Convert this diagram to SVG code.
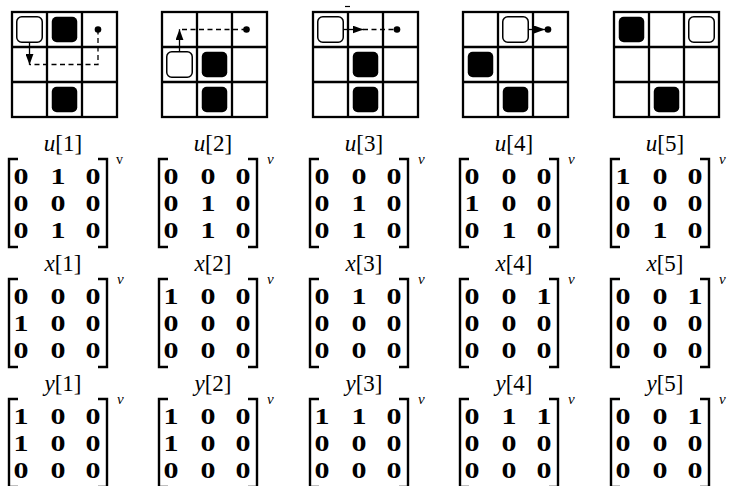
<svg xmlns="http://www.w3.org/2000/svg" width="729" height="486" viewBox="0 0 729 486">
<defs>
<style>
.grid{fill:none;stroke:#000;stroke-width:2.3}
.blk{fill:#000}
.wht{fill:#fff;stroke:#000;stroke-width:1.5}
.dash{fill:none;stroke:#000;stroke-width:1.3;stroke-dasharray:5 3.5}
.sol{fill:none;stroke:#000;stroke-width:1.3}
.br{fill:none;stroke:#000;stroke-width:2.4}
.d{font-family:"Liberation Serif",serif;font-weight:bold;font-size:24px;text-anchor:middle;fill:#000}
.lbl{font-family:"Liberation Serif",serif;font-size:23px;text-anchor:middle;fill:#000}
.lbl tspan.i{font-style:italic}
.sup{font-family:"Liberation Serif",serif;font-style:italic;font-size:15px;fill:#000}
.supr{font-family:"Liberation Serif",serif;font-size:14px;fill:#000}
</style>
<marker id="ah" markerWidth="11" markerHeight="8" refX="11" refY="4" orient="auto" markerUnits="userSpaceOnUse">
<path d="M0,0 L11,4 L0,8 z" fill="#000"/>
</marker>
<g id="g3x3">
<rect x="0" y="0" width="105" height="105" class="grid"/>
<path d="M35,0V105M70,0V105M0,35H105M0,70H105" class="grid"/>
</g>
</defs>
<rect width="729" height="486" fill="#fff"/>

<g id="grid1">
<use href="#g3x3" x="12" y="12"/>
<rect x="16.75" y="16.75" width="25.5" height="25.5" rx="5" class="wht"/>
<rect x="51.75" y="16.75" width="25.5" height="25.5" rx="5" class="blk"/>
<rect x="51.75" y="86.75" width="25.5" height="25.5" rx="5" class="blk"/>
<circle cx="98" cy="29.5" r="3.3" fill="#000"/>
</g>
<g id="grid2">
<use href="#g3x3" x="162" y="12"/>
<rect x="166.75" y="51.75" width="25.5" height="25.5" rx="5" class="wht"/>
<rect x="201.75" y="51.75" width="25.5" height="25.5" rx="5" class="blk"/>
<rect x="201.75" y="86.75" width="25.5" height="25.5" rx="5" class="blk"/>
<circle cx="246.5" cy="29.5" r="3.3" fill="#000"/>
</g>
<g id="grid3">
<use href="#g3x3" x="313" y="12"/>
<rect x="317.75" y="16.75" width="25.5" height="25.5" rx="5" class="wht"/>
<rect x="352.75" y="51.75" width="25.5" height="25.5" rx="5" class="blk"/>
<rect x="352.75" y="86.75" width="25.5" height="25.5" rx="5" class="blk"/>
<circle cx="397" cy="29.5" r="3.3" fill="#000"/>
<path d="M345,6.5H350" stroke="#000" stroke-width="1.2"/>
</g>
<g id="grid4">
<use href="#g3x3" x="463" y="12"/>
<rect x="502.75" y="16.75" width="25.5" height="25.5" rx="5" class="wht"/>
<rect x="467.75" y="51.75" width="25.5" height="25.5" rx="5" class="blk"/>
<rect x="502.75" y="86.75" width="25.5" height="25.5" rx="5" class="blk"/>
<circle cx="548" cy="29.5" r="3.3" fill="#000"/>
</g>
<g id="grid5">
<use href="#g3x3" x="614" y="12"/>
<rect x="618.75" y="16.75" width="25.5" height="25.5" rx="5" class="blk"/>
<rect x="688.75" y="16.75" width="25.5" height="25.5" rx="5" class="wht"/>
<rect x="653.75" y="86.75" width="25.5" height="25.5" rx="5" class="blk"/>
</g>

<g id="connectors">
<path d="M98,29.5V64.5H29.5" class="dash"/>
<path d="M29.5,42.3V64.8" class="sol" marker-end="url(#ah)"/>
<path d="M246.5,29.5H179.5" class="dash"/>
<path d="M179.5,51.7V29.2" class="sol" marker-end="url(#ah)"/>
<path d="M343.3,29.5H363.5" class="sol" marker-end="url(#ah)"/>
<path d="M363,29.5H397" class="dash"/>
<path d="M528.3,29.5H545" class="sol" marker-end="url(#ah)"/>
</g>

<g id="u1">
<text class="lbl" x="63" y="151"><tspan class="i">u</tspan>[1]</text>
<path d="M18,159H9V247H18M98,159H107V247H98" class="br"/>
<text class="d" transform="translate(58,184) scale(1.25,1)" x="-29.6 0 28" y="0">010</text>
<text class="d" transform="translate(58,211) scale(1.25,1)" x="-29.6 0 28" y="0">000</text>
<text class="d" transform="translate(58,238) scale(1.25,1)" x="-29.6 0 28" y="0">010</text>
<text class="supr" x="116" y="164">v</text>
</g>
<g id="u2">
<text class="lbl" x="213" y="151"><tspan class="i">u</tspan>[2]</text>
<path d="M168,159H159V247H168M248,159H257V247H248" class="br"/>
<text class="d" transform="translate(208,184) scale(1.25,1)" x="-29.6 0 28" y="0">000</text>
<text class="d" transform="translate(208,211) scale(1.25,1)" x="-29.6 0 28" y="0">010</text>
<text class="d" transform="translate(208,238) scale(1.25,1)" x="-29.6 0 28" y="0">010</text>
<text class="sup" x="267" y="164">v</text>
</g>
<g id="u3">
<text class="lbl" x="364" y="151"><tspan class="i">u</tspan>[3]</text>
<path d="M319,159H310V247H319M399,159H408V247H399" class="br"/>
<text class="d" transform="translate(359,184) scale(1.25,1)" x="-29.6 0 28" y="0">000</text>
<text class="d" transform="translate(359,211) scale(1.25,1)" x="-29.6 0 28" y="0">010</text>
<text class="d" transform="translate(359,238) scale(1.25,1)" x="-29.6 0 28" y="0">010</text>
<text class="sup" x="418" y="164">v</text>
</g>
<g id="u4">
<text class="lbl" x="514" y="151"><tspan class="i">u</tspan>[4]</text>
<path d="M469,159H460V247H469M549,159H558V247H549" class="br"/>
<text class="d" transform="translate(509,184) scale(1.25,1)" x="-29.6 0 28" y="0">000</text>
<text class="d" transform="translate(509,211) scale(1.25,1)" x="-29.6 0 28" y="0">100</text>
<text class="d" transform="translate(509,238) scale(1.25,1)" x="-29.6 0 28" y="0">010</text>
<text class="sup" x="568" y="164">v</text>
</g>
<g id="u5">
<text class="lbl" x="665" y="151"><tspan class="i">u</tspan>[5]</text>
<path d="M620,159H611V247H620M700,159H709V247H700" class="br"/>
<text class="d" transform="translate(660,184) scale(1.25,1)" x="-29.6 0 28" y="0">100</text>
<text class="d" transform="translate(660,211) scale(1.25,1)" x="-29.6 0 28" y="0">000</text>
<text class="d" transform="translate(660,238) scale(1.25,1)" x="-29.6 0 28" y="0">010</text>
<text class="sup" x="719" y="164">v</text>
</g>

<g id="x1">
<text class="lbl" x="63" y="271"><tspan class="i">x</tspan>[1]</text>
<path d="M18,279H9V367H18M98,279H107V367H98" class="br"/>
<text class="d" transform="translate(58,304) scale(1.25,1)" x="-29.6 0 28" y="0">000</text>
<text class="d" transform="translate(58,331) scale(1.25,1)" x="-29.6 0 28" y="0">100</text>
<text class="d" transform="translate(58,358) scale(1.25,1)" x="-29.6 0 28" y="0">000</text>
<text class="sup" x="117" y="284">v</text>
</g>
<g id="x2">
<text class="lbl" x="213" y="271"><tspan class="i">x</tspan>[2]</text>
<path d="M168,279H159V367H168M248,279H257V367H248" class="br"/>
<text class="d" transform="translate(208,304) scale(1.25,1)" x="-29.6 0 28" y="0">100</text>
<text class="d" transform="translate(208,331) scale(1.25,1)" x="-29.6 0 28" y="0">000</text>
<text class="d" transform="translate(208,358) scale(1.25,1)" x="-29.6 0 28" y="0">000</text>
<text class="sup" x="267" y="284">v</text>
</g>
<g id="x3">
<text class="lbl" x="364" y="271"><tspan class="i">x</tspan>[3]</text>
<path d="M319,279H310V367H319M399,279H408V367H399" class="br"/>
<text class="d" transform="translate(359,304) scale(1.25,1)" x="-29.6 0 28" y="0">010</text>
<text class="d" transform="translate(359,331) scale(1.25,1)" x="-29.6 0 28" y="0">000</text>
<text class="d" transform="translate(359,358) scale(1.25,1)" x="-29.6 0 28" y="0">000</text>
<text class="sup" x="418" y="284">v</text>
</g>
<g id="x4">
<text class="lbl" x="514" y="271"><tspan class="i">x</tspan>[4]</text>
<path d="M469,279H460V367H469M549,279H558V367H549" class="br"/>
<text class="d" transform="translate(509,304) scale(1.25,1)" x="-29.6 0 28" y="0">001</text>
<text class="d" transform="translate(509,331) scale(1.25,1)" x="-29.6 0 28" y="0">000</text>
<text class="d" transform="translate(509,358) scale(1.25,1)" x="-29.6 0 28" y="0">000</text>
<text class="sup" x="568" y="284">v</text>
</g>
<g id="x5">
<text class="lbl" x="665" y="271"><tspan class="i">x</tspan>[5]</text>
<path d="M620,279H611V367H620M700,279H709V367H700" class="br"/>
<text class="d" transform="translate(660,304) scale(1.25,1)" x="-29.6 0 28" y="0">001</text>
<text class="d" transform="translate(660,331) scale(1.25,1)" x="-29.6 0 28" y="0">000</text>
<text class="d" transform="translate(660,358) scale(1.25,1)" x="-29.6 0 28" y="0">000</text>
<text class="sup" x="719" y="284">v</text>
</g>

<g id="y1">
<text class="lbl" x="63" y="391"><tspan class="i">y</tspan>[1]</text>
<path d="M18,399H9V487H18M98,399H107V487H98" class="br"/>
<text class="d" transform="translate(58,424) scale(1.25,1)" x="-29.6 0 28" y="0">100</text>
<text class="d" transform="translate(58,451) scale(1.25,1)" x="-29.6 0 28" y="0">100</text>
<text class="d" transform="translate(58,478) scale(1.25,1)" x="-29.6 0 28" y="0">000</text>
<text class="sup" x="117" y="404">v</text>
</g>
<g id="y2">
<text class="lbl" x="213" y="391"><tspan class="i">y</tspan>[2]</text>
<path d="M168,399H159V487H168M248,399H257V487H248" class="br"/>
<text class="d" transform="translate(208,424) scale(1.25,1)" x="-29.6 0 28" y="0">100</text>
<text class="d" transform="translate(208,451) scale(1.25,1)" x="-29.6 0 28" y="0">100</text>
<text class="d" transform="translate(208,478) scale(1.25,1)" x="-29.6 0 28" y="0">000</text>
<text class="sup" x="267" y="404">v</text>
</g>
<g id="y3">
<text class="lbl" x="364" y="391"><tspan class="i">y</tspan>[3]</text>
<path d="M319,399H310V487H319M399,399H408V487H399" class="br"/>
<text class="d" transform="translate(359,424) scale(1.25,1)" x="-29.6 0 28" y="0">110</text>
<text class="d" transform="translate(359,451) scale(1.25,1)" x="-29.6 0 28" y="0">000</text>
<text class="d" transform="translate(359,478) scale(1.25,1)" x="-29.6 0 28" y="0">000</text>
<text class="sup" x="418" y="404">v</text>
</g>
<g id="y4">
<text class="lbl" x="514" y="391"><tspan class="i">y</tspan>[4]</text>
<path d="M469,399H460V487H469M549,399H558V487H549" class="br"/>
<text class="d" transform="translate(509,424) scale(1.25,1)" x="-29.6 0 28" y="0">011</text>
<text class="d" transform="translate(509,451) scale(1.25,1)" x="-29.6 0 28" y="0">000</text>
<text class="d" transform="translate(509,478) scale(1.25,1)" x="-29.6 0 28" y="0">000</text>
<text class="sup" x="568" y="404">v</text>
</g>
<g id="y5">
<text class="lbl" x="665" y="391"><tspan class="i">y</tspan>[5]</text>
<path d="M620,399H611V487H620M700,399H709V487H700" class="br"/>
<text class="d" transform="translate(660,424) scale(1.25,1)" x="-29.6 0 28" y="0">001</text>
<text class="d" transform="translate(660,451) scale(1.25,1)" x="-29.6 0 28" y="0">000</text>
<text class="d" transform="translate(660,478) scale(1.25,1)" x="-29.6 0 28" y="0">000</text>
<text class="sup" x="719" y="404">v</text>
</g>
</svg>
